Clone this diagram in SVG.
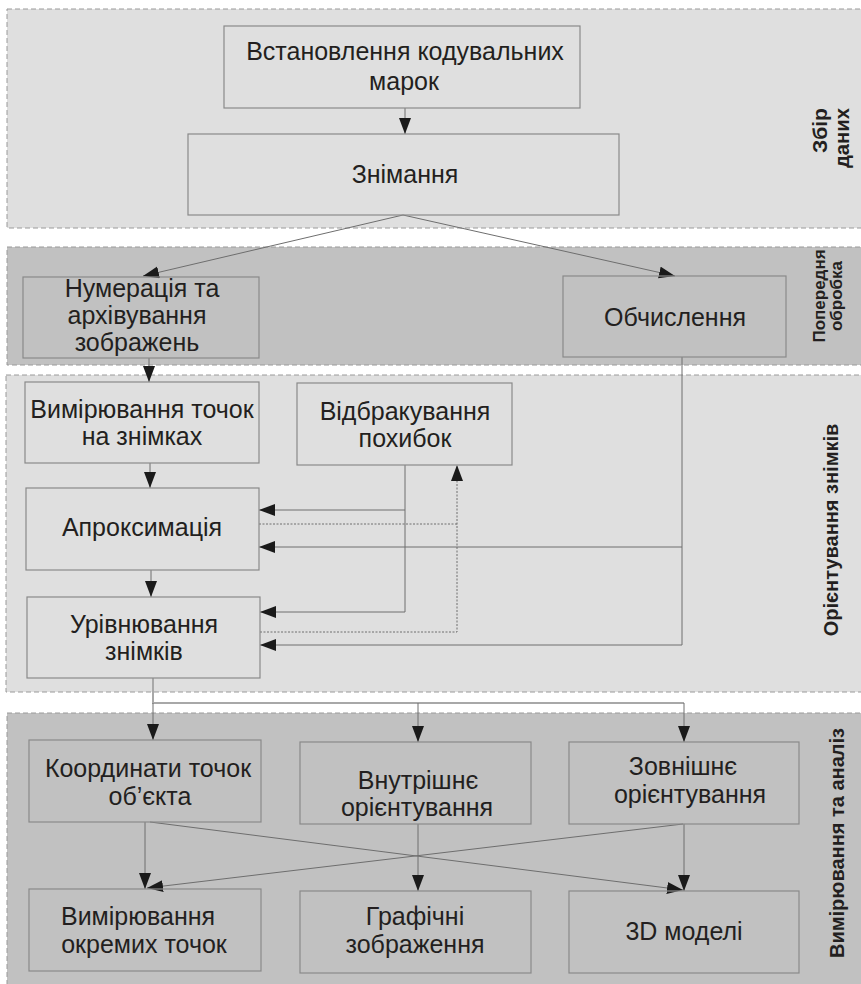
<svg xmlns="http://www.w3.org/2000/svg" width="861" height="984" viewBox="0 0 861 984">
<defs>
<marker id="ah" markerUnits="userSpaceOnUse" markerWidth="17" markerHeight="13" refX="16" refY="6" orient="auto">
<path d="M0,0 L16,6 L0,12 z" fill="#1a1a1a"/>
</marker>
</defs>
<style>
.band{stroke:#9a9a9a;stroke-width:1;stroke-dasharray:5,3}
.light{fill:#dfdfdf}
.dark{fill:#c1c1c1}
.box{fill:none;stroke:#8a8a8a;stroke-width:1.2}
.t{font-family:"Liberation Sans",Arial,sans-serif;font-size:25px;fill:#231f20;text-anchor:middle}
.lab{font-family:"Liberation Sans",Arial,sans-serif;font-weight:bold;font-size:20px;fill:#231f20;text-anchor:middle}
.c{fill:none;stroke:#6e6e6e;stroke-width:1}
.a{marker-end:url(#ah)}
.d{fill:none;stroke:#6e6e6e;stroke-width:1;stroke-dasharray:2,1.5}
.w{fill:none;stroke:#a8a8a8;stroke-width:2}
</style>
<rect width="861" height="984" fill="#ffffff"/>
<g id="bands">
<rect class="band light" x="7" y="9" width="870" height="219"/>
<rect class="band dark" x="7" y="247" width="870" height="118"/>
<rect class="band light" x="6" y="375" width="870" height="317"/>
<rect class="band dark" x="7" y="713" width="870" height="290"/>
<text class="lab" style="font-size:21px" transform="translate(827,108) rotate(-90)" x="-22.5" y="0" text-anchor="start" textLength="45" lengthAdjust="spacingAndGlyphs">Збір</text>
<text class="lab" style="font-size:21px" transform="translate(849,108) rotate(-90)" x="-30" y="0" text-anchor="start" textLength="60" lengthAdjust="spacingAndGlyphs">даних</text>
<text class="lab" style="font-size:17px" transform="translate(825,296) rotate(-90)"><tspan x="0" y="0">Попередня</tspan><tspan x="0" y="17">обробка</tspan></text>
<text class="lab" transform="translate(838,530) rotate(-90)">Орієнтування знімків</text>
<text class="lab" transform="translate(844,843) rotate(-90)">Вимірювання та аналіз</text>
</g>
<g id="connectors">
<line class="c a" x1="405" y1="108" x2="405" y2="134"/>
<line class="c a" x1="403" y1="215" x2="143" y2="276"/>
<line class="c a" x1="403" y1="215" x2="675" y2="276"/>
<line class="c a" x1="149" y1="358" x2="149" y2="382"/>
<line class="c a" x1="150" y1="463" x2="150" y2="488"/>
<line class="c a" x1="151" y1="570" x2="151" y2="597"/>
<polyline class="c" points="405,465 405,612"/>
<line class="c a" x1="405" y1="510" x2="259" y2="510"/>
<line class="c a" x1="405" y1="612" x2="260" y2="612"/>
<polyline class="d" points="259,524 457,524"/>
<polyline class="d a" points="260,632 457,632 457,465"/>
<polyline class="c" points="682,357 682,645"/>
<line class="c a" x1="682" y1="547" x2="259" y2="547"/>
<line class="c a" x1="682" y1="645" x2="260" y2="645"/>
<polyline class="w" points="153,678 153,703 684,703"/>
<line class="c a" x1="153" y1="703" x2="153" y2="740"/>
<line class="c a" x1="418" y1="703" x2="418" y2="742"/>
<line class="c a" x1="684" y1="703" x2="684" y2="742"/>
<line class="c a" x1="145" y1="822" x2="145" y2="889"/>
<line class="c a" x1="150" y1="822" x2="683" y2="890"/>
<line class="c a" x1="683" y1="824" x2="147" y2="888"/>
<line class="c a" x1="418" y1="824" x2="418" y2="891"/>
<line class="c a" x1="684" y1="824" x2="684" y2="891"/>
</g>
<g id="n1"><rect class="box" x="224" y="26" width="356" height="82"/><text class="t"><tspan x="405" y="60">Встановлення кодувальних</tspan><tspan x="404" y="90">марок</tspan></text></g>
<g id="n2"><rect class="box" x="188" y="134" width="431" height="81"/><text class="t" x="405" y="183">Знімання</text></g>
<g id="n3"><rect class="box" x="23" y="277" width="236" height="81"/><text class="t"><tspan x="142" y="297">Нумерація та</tspan><tspan x="137" y="324">архівування</tspan><tspan x="137" y="351">зображень</tspan></text></g>
<g id="n4"><rect class="box" x="563" y="276" width="223" height="81"/><text class="t" x="675" y="326">Обчислення</text></g>
<g id="n5"><rect class="box" x="25" y="382" width="234" height="81"/><text class="t"><tspan x="142" y="418">Вимірювання точок</tspan><tspan x="142" y="445">на знімках</tspan></text></g>
<g id="n6"><rect class="box" x="297" y="383" width="215" height="82"/><text class="t"><tspan x="405" y="420">Відбракування</tspan><tspan x="405" y="447">похибок</tspan></text></g>
<g id="n7"><rect class="box" x="26" y="488" width="233" height="82"/><text class="t" x="142" y="536">Апроксимація</text></g>
<g id="n8"><rect class="box" x="27" y="597" width="233" height="81"/><text class="t"><tspan x="144" y="633">Урівнювання</tspan><tspan x="144" y="660">знімків</tspan></text></g>
<g id="n9"><rect class="box" x="29" y="740" width="232" height="82"/><text class="t"><tspan x="148" y="777">Координати точок</tspan><tspan x="150" y="805">об’єкта</tspan></text></g>
<g id="n10"><rect class="box" x="300" y="742" width="231" height="82"/><text class="t"><tspan x="418" y="789">Внутрішнє</tspan><tspan x="417" y="816">орієнтування</tspan></text></g>
<g id="n11"><rect class="box" x="569" y="742" width="230" height="82"/><text class="t"><tspan x="683" y="775">Зовнішнє</tspan><tspan x="690" y="803">орієнтування</tspan></text></g>
<g id="n12"><rect class="box" x="29" y="889" width="232" height="82"/><text class="t"><tspan x="138" y="925">Вимірювання</tspan><tspan x="144" y="953">окремих точок</tspan></text></g>
<g id="n13"><rect class="box" x="300" y="891" width="231" height="82"/><text class="t"><tspan x="415" y="925">Графічні</tspan><tspan x="415" y="953">зображення</tspan></text></g>
<g id="n14"><rect class="box" x="569" y="891" width="230" height="82"/><text class="t" x="684" y="940">3D моделі</text></g>
</svg>
